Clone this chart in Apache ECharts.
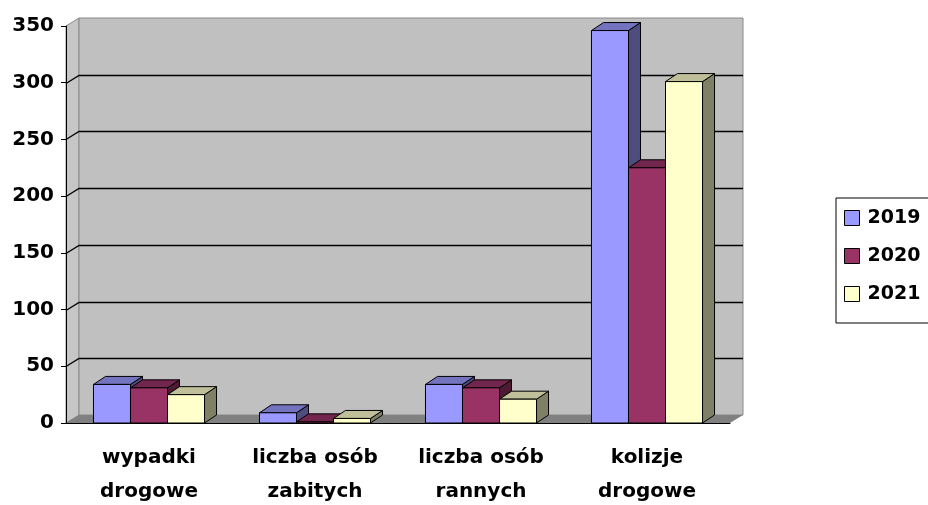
<!DOCTYPE html>
<html>
<head>
<meta charset="utf-8">
<script src="https://cdn.jsdelivr.net/npm/echarts@6/dist/echarts.min.js"></script>
<style>
  html, body { margin: 0; padding: 0; background: #fff; }
  #chart { width: 928px; height: 505px; }
</style>
</head>
<body>
<div id="chart"></div>
<script>
const categories = ['wypadki\ndrogowe', 'liczba osób\nzabitych', 'liczba osób\nrannych', 'kolizje\ndrogowe'];
const years = ['2019', '2020', '2021'];
const values2019 = [34, 9, 34, 346];
const values2020 = [31, 1, 31, 225];
const values2021 = [25, 4, 21, 301];
const yTicks = [0, 50, 100, 150, 200, 250, 300, 350];

// front / top / side shades, classic office palette
const shades = [
  { front: '#9999ff', top: '#7373bf', side: '#4d4d80' },
  { front: '#993366', top: '#73264d', side: '#4d1a33' },
  { front: '#ffffcc', top: '#bfbf99', side: '#808066' }
];

const WALL_DX = 13, WALL_DY = -8; // depth of the walls
const BAR_DX = 12, BAR_DY = -8;   // depth of each column

const chart = echarts.init(document.getElementById('chart'));

// walls, floor and back gridlines
const renderFrame = (params, api) => {
  const { x, y, width: w, height: h } = params.coordSys;
  const children = [
    {
      type: 'polygon',
      shape: { points: [[x, y], [x + WALL_DX, y + WALL_DY], [x + WALL_DX, y + h + WALL_DY], [x, y + h]] },
      style: { fill: '#c6c6c6', stroke: '#8a8a8a', lineWidth: 1 }
    },
    {
      type: 'rect',
      shape: { x: x + WALL_DX, y: y + WALL_DY, width: w, height: h },
      style: { fill: '#c0c0c0', stroke: '#8a8a8a', lineWidth: 1 }
    },
    {
      type: 'polygon',
      shape: { points: [[x, y + h], [x + w, y + h], [x + w + WALL_DX, y + h + WALL_DY], [x + WALL_DX, y + h + WALL_DY]] },
      style: { fill: '#808080' }
    }
  ];
  yTicks.forEach(v => {
    if (v === 0 || v === yTicks[yTicks.length - 1]) return;
    const yy = Math.round(api.coord([0, v])[1]) + 0.5;
    children.push({
      type: 'polyline',
      shape: { points: [[x, yy], [x + WALL_DX, yy + WALL_DY], [x + WALL_DX + w, yy + WALL_DY]] },
      style: { fill: null, stroke: '#000', lineWidth: 1.3 }
    });
  });
  return { type: 'group', children };
};

const makeBarRenderer = k => (params, api) => {
  const ci = api.value(0);
  const base = api.coord([ci, 0]);
  const top = api.coord([ci, api.value(1)]);
  const band = api.size([1, 0])[0];
  const bw = band * 0.223;
  const x0 = base[0] - 1.5 * bw + k * bw;
  const x1 = x0 + bw;
  const yT = top[1], yB = base[1];
  const c = shades[k];
  return {
    type: 'group',
    children: [
      {
        type: 'polygon',
        shape: { points: [[x1, yT], [x1 + BAR_DX, yT + BAR_DY], [x1 + BAR_DX, yB + BAR_DY], [x1, yB]] },
        style: { fill: c.side, stroke: '#000', lineWidth: 1 }
      },
      {
        type: 'polygon',
        shape: { points: [[x0, yT], [x1, yT], [x1 + BAR_DX, yT + BAR_DY], [x0 + BAR_DX, yT + BAR_DY]] },
        style: { fill: c.top, stroke: '#000', lineWidth: 1 }
      },
      {
        type: 'rect',
        shape: { x: x0, y: yT, width: bw, height: yB - yT },
        style: { fill: c.front, stroke: '#000', lineWidth: 1 }
      }
    ]
  };
};

const seriesValues = [values2019, values2020, values2021];

const option = {
  backgroundColor: '#fff',
  animation: false,
  textStyle: { fontFamily: 'DejaVu Sans' },
  grid: { left: 66, right: 198, top: 26, bottom: 82, outerBoundsMode: 'none' },
  legend: {
    data: years,
    orient: 'vertical',
    left: 836,
    top: 198,
    padding: [10, 60, 19, 8],
    itemGap: 18,
    itemWidth: 15,
    itemHeight: 15,
    icon: 'rect',
    borderColor: '#000',
    borderWidth: 1,
    itemStyle: { borderColor: '#000', borderWidth: 1 },
    textStyle: { color: '#000', fontSize: 19, fontWeight: 'bold', fontFamily: 'DejaVu Sans', padding: [0, 0, 0, 3], lineHeight: 20 }
  },
  xAxis: {
    type: 'category',
    data: categories,
    z: 10,
    axisLine: { lineStyle: { color: '#000', width: 1 } },
    axisTick: { length: 5, lineStyle: { color: '#000' } },
    axisLabel: { color: '#000', fontSize: 20, fontWeight: 'bold', margin: 18, lineHeight: 34, interval: 0 }
  },
  yAxis: {
    type: 'value',
    min: 0,
    max: 350,
    interval: 50,
    z: 10,
    axisLine: { show: true, lineStyle: { color: '#000', width: 1 } },
    axisTick: { show: true, length: 5, lineStyle: { color: '#000' } },
    axisLabel: { color: '#000', fontSize: 20, fontWeight: 'bold', margin: 12 },
    splitLine: { show: false }
  },
  series: [
    {
      name: 'frame',
      type: 'custom',
      z: 1,
      silent: true,
      data: [[0, 0]],
      renderItem: renderFrame
    },
    ...years.map((yr, k) => ({
      name: yr,
      type: 'custom',
      z: 2,
      itemStyle: { color: shades[k].front, borderColor: '#000', borderWidth: 1 },
      data: seriesValues[k].map((v, i) => [i, v]),
      renderItem: makeBarRenderer(k)
    }))
  ]
};

chart.setOption(option);
</script>
</body>
</html>
